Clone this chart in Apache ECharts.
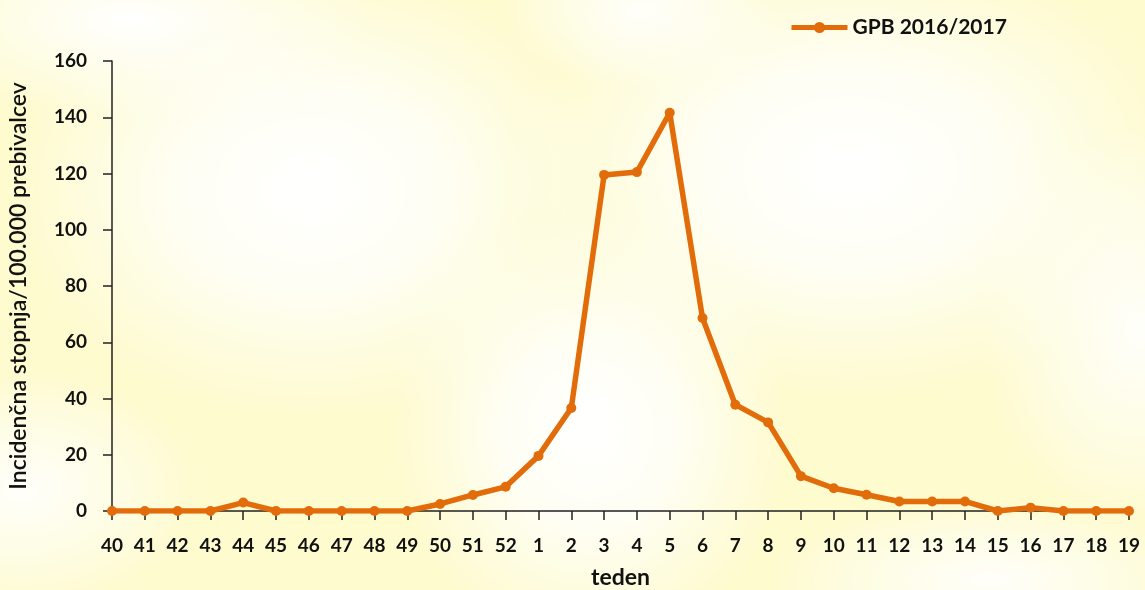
<!DOCTYPE html>
<html>
<head>
<meta charset="utf-8">
<script src="https://cdn.jsdelivr.net/npm/echarts@6/dist/echarts.min.js"></script>
<style>
  html, body { margin: 0; padding: 0; }
  body {
    width: 1145px; height: 590px; overflow: hidden;
    background:
      radial-gradient(ellipse 300px 230px at 310px 190px, rgba(255,255,255,1) 0%, rgba(255,255,255,0.75) 45%, rgba(255,255,255,0.3) 75%, rgba(255,255,255,0) 100%),
      radial-gradient(ellipse 340px 230px at 850px 170px, rgba(255,255,255,1) 0%, rgba(255,255,255,0.75) 45%, rgba(255,255,255,0.3) 75%, rgba(255,255,255,0) 100%),
      radial-gradient(ellipse 200px 220px at 590px 430px, rgba(255,255,255,1) 0%, rgba(255,255,255,0.75) 45%, rgba(255,255,255,0.3) 75%, rgba(255,255,255,0) 100%),
      radial-gradient(ellipse 160px 200px at 1140px 330px, rgba(255,255,255,0.9) 0%, rgba(255,255,255,0.4) 60%, rgba(255,255,255,0) 100%),
      radial-gradient(ellipse 180px 120px at 20px 490px, rgba(255,255,255,0.9) 0%, rgba(255,255,255,0.4) 60%, rgba(255,255,255,0) 100%),
      radial-gradient(ellipse 240px 100px at 130px 20px, rgba(255,255,255,1) 0%, rgba(255,255,255,0.4) 60%, rgba(255,255,255,0) 100%),
      radial-gradient(ellipse 220px 80px at 990px 580px, rgba(255,255,255,0.9) 0%, rgba(255,255,255,0.4) 60%, rgba(255,255,255,0) 100%),
      radial-gradient(ellipse 140px 80px at 640px 10px, rgba(255,255,255,0.9) 0%, rgba(255,255,255,0.4) 60%, rgba(255,255,255,0) 100%),
      #fefbcf;
  }
  #chart { width: 1145px; height: 590px; }
</style>
</head>
<body>
<div id="chart"></div>
<script>
// Weeks of the 2016/2017 season
const weeks = ['40','41','42','43','44','45','46','47','48','49','50','51','52',
               '1','2','3','4','5','6','7','8','9','10','11','12','13','14','15','16','17','18','19'];
// Incidence per 100,000 inhabitants
const incidence = [0, 0, 0, 0, 3.0, 0, 0, 0, 0, 0, 2.5, 5.7, 8.6,
                   19.6, 36.6, 119.5, 120.5, 141.6, 68.6, 37.8, 31.5, 12.4, 8.1, 5.8, 3.4, 3.4, 3.4, 0, 1.2, 0, 0, 0];
const yTicks = { min: 0, max: 160, interval: 20 };
const seriesName = 'GPB 2016/2017';

const font = 'Lato, "Open Sans", "DejaVu Sans", sans-serif';
const orange = '#E36C0A';
const ink = '#111';

const chart = echarts.init(document.getElementById('chart'), null, { renderer: 'canvas' });
chart.setOption({
  backgroundColor: 'transparent',
  animation: false,
  textStyle: { fontFamily: font },
  legend: {
    data: [seriesName],
    left: 784, top: 12,
    itemWidth: 56, itemHeight: 14, itemGap: 5,
    lineStyle: { width: 5 },
    textStyle: { fontFamily: font, fontSize: 21, fontWeight: 'bold', color: ink }
  },
  grid: { left: 112, right: 16, top: 61, bottom: 79, containLabel: false, outerBoundsMode: 'none' },
  xAxis: {
    type: 'category',
    data: weeks,
    boundaryGap: false,
    name: 'teden',
    nameLocation: 'middle',
    nameGap: 55,
    nameTextStyle: { fontFamily: font, fontSize: 23, fontWeight: 'bold', color: ink },
    axisLine: { lineStyle: { color: '#222', width: 1.5 } },
    axisTick: { show: true, alignWithLabel: true, length: 9, lineStyle: { color: '#222', width: 1.5 } },
    axisLabel: { margin: 25, fontSize: 19, fontWeight: 'bold', color: ink, interval: 0, fontFamily: font },
    splitLine: { show: false }
  },
  yAxis: {
    type: 'value',
    min: yTicks.min, max: yTicks.max, interval: yTicks.interval,
    name: 'Incidenčna stopnja/100.000 prebivalcev',
    nameLocation: 'middle',
    nameGap: 82,
    nameRotate: 90,
    nameTextStyle: { fontFamily: font, fontSize: 23, color: ink, fontWeight: 600 },
    axisLine: { show: true, lineStyle: { color: '#222', width: 1.5 } },
    axisTick: { show: true, length: 9, lineStyle: { color: '#222', width: 1.5 } },
    axisLabel: { margin: 25, fontSize: 19, fontWeight: 'bold', color: ink, fontFamily: font },
    splitLine: { show: false }
  },
  series: [{
    name: seriesName,
    type: 'line',
    data: incidence,
    symbol: 'circle',
    symbolSize: 10,
    lineStyle: { color: orange, width: 5.5 },
    itemStyle: { color: orange },
    z: 3
  }]
});
</script>
</body>
</html>
